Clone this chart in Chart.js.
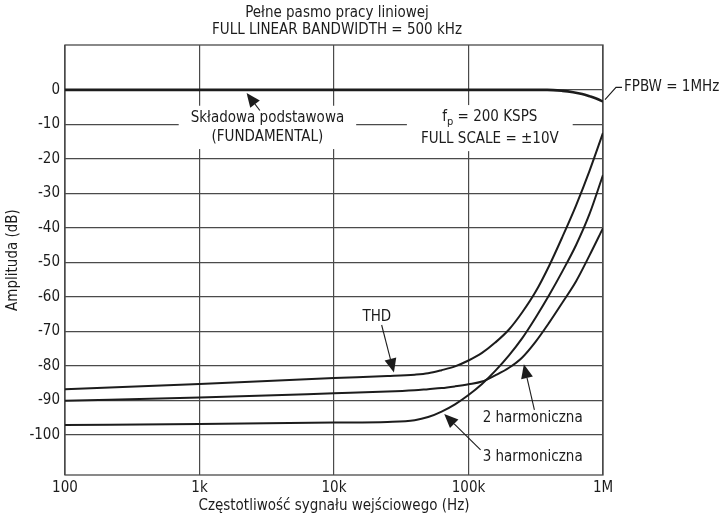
<!DOCTYPE html>
<html>
<head>
<meta charset="utf-8">
<script src="https://cdn.jsdelivr.net/npm/chart.js@4.4.1/dist/chart.umd.min.js"></script>
<style>
  html, body { margin: 0; padding: 0; background: #fff; }
  #wrap { width: 722px; height: 522px; }
</style>
</head>
<body>
<div id="wrap"><canvas id="chart" width="722" height="522"></canvas></div>
<script>
const FONT = "'DejaVu Sans Condensed', 'Liberation Sans Narrow', sans-serif";
const FS = 15;
const INK = '#1c1c1c';
const GRID = '#4a4a4a';

// axis ticks
const freqTicks = [100, 1e3, 1e4, 1e5, 1e6];
const freqLabels = ['100', '1k', '10k', '100k', '1M'];
const dbTicks = [0, -10, -20, -30, -40, -50, -60, -70, -80, -90, -100];

// fundamental (dB)
const fundFreq = [100, 1e3, 1e4, 1e5, 3.85e5, 5e5, 6e5, 7e5, 8e5, 9e5, 1e6];
const fundDb = [0, 0, 0, 0, 0, -0.3, -0.7, -1.2, -1.9, -2.6, -3.4];

// distortion curves share one frequency grid (Hz)
const distFreq = [100, 1e3, 1e4, 2.5e4, 3.98e4, 5.01e4, 6.31e4, 7.94e4, 1e5, 1.26e5, 1.58e5,
                  2e5, 2.51e5, 3.16e5, 3.98e5, 5.01e5, 6.31e5, 7.94e5, 1e6];
const thdDb = [-86.8, -85.3, -83.6, -83.0, -82.6, -82.2, -81.3, -80.2, -78.5, -76.3, -73.3,
               -69.5, -64.5, -58.5, -51.0, -42.5, -33.5, -23.5, -12.5];
const h2Db = [-90.2, -89.2, -88.0, -87.5, -87.1, -86.8, -86.5, -86.0, -85.4, -84.6, -82.8,
              -80.6, -77.6, -73.0, -67.5, -61.6, -55.5, -48.0, -40.1];
const h3Db = [-97.2, -96.9, -96.5, -96.3, -95.8, -94.9, -93.3, -91.2, -88.5, -85.3, -81.5,
              -77.0, -72.0, -66.0, -59.5, -52.5, -45.0, -36.0, -24.7];

const pts = (fs, ds) => fs.map((f, i) => ({ x: f, y: ds[i] }));

const curve = (label, data, width) => ({
  label, data,
  borderColor: INK, borderWidth: width,
  pointRadius: 0, fill: false,
  cubicInterpolationMode: 'monotone'
});

// text blocks that sit on a white patch over the grid
const boxNotes = [
  { lines: [[{ t: 'Składowa podstawowa' }], [{ t: '(FUNDAMENTAL)' }]], f: 3.2e3, db: [-8.1, -13.7], pad: 12 },
  { lines: [[{ t: 'f' }, { t: 'p', sub: true }, { t: ' = 200 KSPS' }], [{ t: 'FULL SCALE = ±10V' }]], f: 1.44e5, db: [-7.9, -14.3], pad: 14 }
];

// curve labels with arrows: text position, arrow tail, arrow tip
const arrowNotes = [
  { text: null, tail: [2.81e3, -6.0], tip: [2.24e3, -0.9] },
  { text: 'THD', at: [2.08e4, -65.9], tail: [2.26e4, -68.2], tip: [2.79e4, -82.0] },
  { text: '2 harmoniczna', at: [3.0e5, -95.1], tail: [3.09e5, -92.8], tip: [2.58e5, -79.6] },
  { text: '3 harmoniczna', at: [3.0e5, -106.4], tail: [1.23e5, -104.4], tip: [6.6e4, -94.0] }
];

function segWidth(ctx, segs) {
  let w = 0;
  segs.forEach(s => {
    ctx.font = (s.sub ? FS - 4 : FS) + 'px ' + FONT;
    w += ctx.measureText(s.t).width;
  });
  return w;
}

function drawSegs(ctx, segs, cx, cy) {
  let x = cx - segWidth(ctx, segs) / 2;
  ctx.textAlign = 'left';
  ctx.textBaseline = 'middle';
  segs.forEach(s => {
    ctx.font = (s.sub ? FS - 4 : FS) + 'px ' + FONT;
    ctx.fillText(s.t, x, s.sub ? cy + 5 : cy);
    x += ctx.measureText(s.t).width;
  });
}

function arrow(ctx, x0, y0, x1, y1) {
  const ang = Math.atan2(y1 - y0, x1 - x0);
  const len = 14, half = 6;
  const bx = x1 - len * Math.cos(ang), by = y1 - len * Math.sin(ang);
  ctx.beginPath();
  ctx.moveTo(x0, y0);
  ctx.lineTo(bx, by);
  ctx.stroke();
  ctx.beginPath();
  ctx.moveTo(x1, y1);
  ctx.lineTo(bx + half * Math.sin(ang), by - half * Math.cos(ang));
  ctx.lineTo(bx - half * Math.sin(ang), by + half * Math.cos(ang));
  ctx.closePath();
  ctx.fill();
}

const decor = {
  id: 'decor',
  beforeDatasetsDraw(chart) {
    const { ctx, chartArea: a, scales: { x, y } } = chart;
    ctx.save();
    ctx.strokeStyle = GRID;
    ctx.lineWidth = 1.3;
    ctx.strokeRect(a.left, a.top, a.right - a.left, a.bottom - a.top);
    ctx.fillStyle = '#fff';
    boxNotes.forEach(n => {
      const cx = x.getPixelForValue(n.f);
      const y1 = y.getPixelForValue(n.db[0]);
      const y2 = y.getPixelForValue(n.db[1]);
      const w = Math.max(...n.lines.map(l => segWidth(ctx, l))) + 2 * n.pad;
      ctx.fillRect(cx - w / 2, y1 - 12, w, y2 - y1 + 24);
    });
    ctx.restore();
  },
  afterDatasetsDraw(chart) {
    const { ctx, chartArea: a, scales: { x, y } } = chart;
    ctx.save();
    ctx.fillStyle = INK;
    ctx.strokeStyle = INK;
    ctx.lineWidth = 1.1;

    boxNotes.forEach(n => {
      const cx = x.getPixelForValue(n.f);
      n.lines.forEach((l, i) => drawSegs(ctx, l, cx, y.getPixelForValue(n.db[i])));
    });

    arrowNotes.forEach(n => {
      if (n.text) drawSegs(ctx, [{ t: n.text }], x.getPixelForValue(n.at[0]), y.getPixelForValue(n.at[1]));
      arrow(ctx,
        x.getPixelForValue(n.tail[0]), y.getPixelForValue(n.tail[1]),
        x.getPixelForValue(n.tip[0]), y.getPixelForValue(n.tip[1]));
    });

    // full power bandwidth marker at the end of the fundamental
    const ex = x.getPixelForValue(fundFreq[fundFreq.length - 1]);
    const ey = y.getPixelForValue(fundDb[fundDb.length - 1]);
    const ly = y.getPixelForValue(0) - 2.5;
    ctx.beginPath();
    ctx.moveTo(ex + 2, ey - 2);
    ctx.lineTo(ex + 13, ly);
    ctx.lineTo(ex + 19, ly);
    ctx.stroke();
    ctx.font = FS + 'px ' + FONT;
    ctx.textAlign = 'left';
    ctx.textBaseline = 'middle';
    ctx.fillText('FPBW = 1MHz', ex + 21, ly);

    // two-line heading above the plot
    ctx.textAlign = 'center';
    const mid = (a.left + a.right) / 2 + 3;
    ctx.fillText('Pełne pasmo pracy liniowej', mid, a.top - 32);
    ctx.fillText('FULL LINEAR BANDWIDTH = 500 kHz', mid, a.top - 15);
    ctx.restore();
  }
};

const tickFont = { family: FONT, size: FS };

new Chart(document.getElementById('chart'), {
  type: 'line',
  data: {
    datasets: [
      curve('Fundamental', pts(fundFreq, fundDb), 2.6),
      curve('THD', pts(distFreq, thdDb), 2),
      curve('2 harmoniczna', pts(distFreq, h2Db), 2),
      curve('3 harmoniczna', pts(distFreq, h3Db), 2)
    ]
  },
  options: {
    responsive: false,
    animation: false,
    layout: { padding: { top: 45, right: 119, bottom: 0, left: 0 } },
    plugins: { legend: { display: false }, tooltip: { enabled: false }, title: { display: false } },
    scales: {
      x: {
        type: 'logarithmic',
        min: 100, max: 1e6,
        afterBuildTicks: s => { s.ticks = freqTicks.map(v => ({ value: v })); },
        afterFit: s => { s.height = 47; },
        ticks: {
          callback: (v, i) => freqLabels[i],
          color: INK, font: tickFont, padding: 4,
          maxRotation: 0, autoSkip: false
        },
        grid: { color: GRID, lineWidth: 1.2, drawTicks: false },
        border: { display: false },
        title: {
          display: true, text: 'Częstotliwość sygnału wejściowego (Hz)',
          color: INK, font: tickFont, padding: { top: 0, bottom: 7 }
        }
      },
      y: {
        type: 'linear',
        min: -111.7, max: 13,
        afterBuildTicks: s => { s.ticks = dbTicks.map(v => ({ value: v })); },
        afterFit: s => { s.width = 65; },
        ticks: { callback: v => String(v), color: INK, font: tickFont, padding: 5 },
        grid: { color: GRID, lineWidth: 1.2, drawTicks: false },
        border: { display: false },
        title: {
          display: true, text: 'Amplituda (dB)',
          color: INK, font: tickFont, padding: { top: 4, bottom: 0 }
        }
      }
    }
  },
  plugins: [decor]
});
</script>
</body>
</html>
